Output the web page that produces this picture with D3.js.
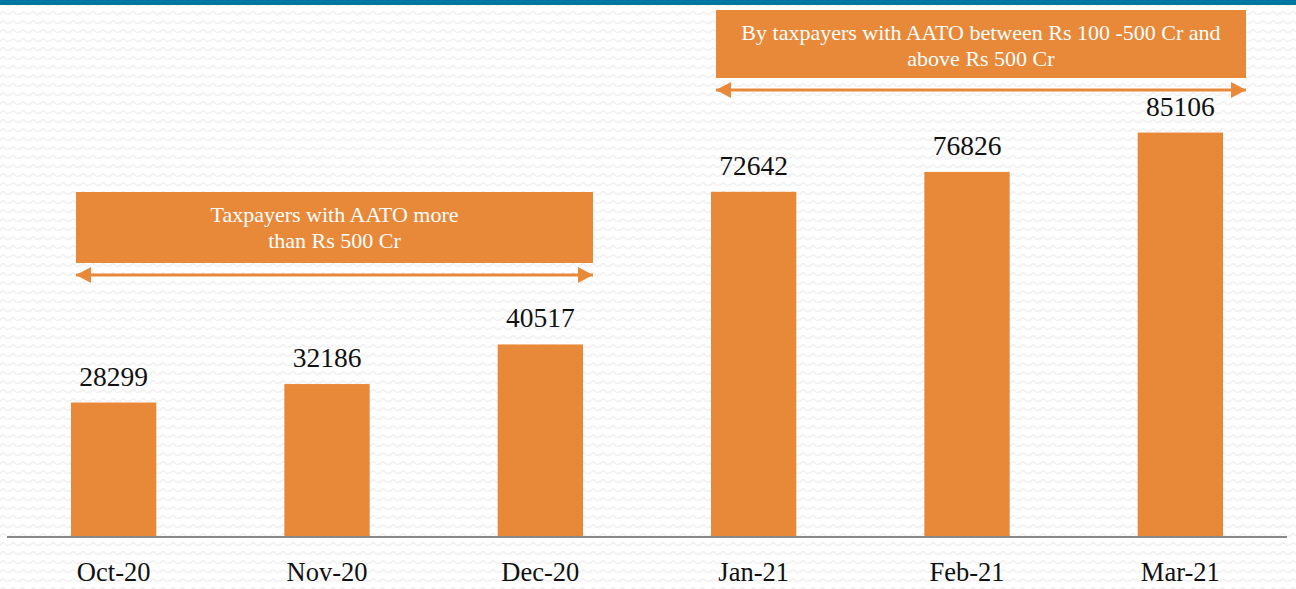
<!DOCTYPE html>
<html>
<head>
<meta charset="utf-8">
<script src="https://cdn.jsdelivr.net/npm/d3@7"></script>
<style>
  body { margin: 0; background: #fff; }
  svg { display: block; }
</style>
</head>
<body>
<div id="chart"></div>
<script>
// data
const months = ["Oct-20", "Nov-20", "Dec-20", "Jan-21", "Feb-21", "Mar-21"];
const returns = [28299, 32186, 40517, 72642, 76826, 85106];

// banner groups over the bars
const bannerText = [
    ["Taxpayers with AATO more", "than Rs 500 Cr"],
    ["By taxpayers with AATO between Rs 100 -500 Cr and", "above Rs 500 Cr"]
];
const bannerFrom = ["Oct-20", "Jan-21"];
const bannerTo = ["Dec-20", "Mar-21"];

const width = 1296;
const height = 589;
const baseY = 537;
const orange = "#E8893A";
const serif = "Liberation Serif";

const svg = d3.select("#chart")
    .append("svg")
    .attr("width", width)
    .attr("height", height);

// faint zigzag background
const defs = svg.append("defs");
const pat = defs.append("pattern")
    .attr("id", "zig")
    .attr("width", 10)
    .attr("height", 9)
    .attr("patternUnits", "userSpaceOnUse");
pat.append("path")
    .attr("d", "M0,6 Q2.5,1 5,4 T10,4")
    .attr("fill", "none")
    .attr("stroke", "#f1f1f1")
    .attr("stroke-width", 1.6);

svg.append("rect")
    .attr("width", width)
    .attr("height", height)
    .attr("fill", "url(#zig)");

svg.append("rect")
    .attr("width", width)
    .attr("height", 5)
    .attr("fill", "#0077A3");

// arrowheads
["start", "end"].forEach(function (k) {
    defs.append("marker")
        .attr("id", "arr-" + k)
        .attr("viewBox", "0 0 15 16")
        .attr("refX", k == "end" ? 15 : 0)
        .attr("refY", 8)
        .attr("markerWidth", 15)
        .attr("markerHeight", 16)
        .attr("markerUnits", "userSpaceOnUse")
        .attr("orient", "auto")
        .append("path")
        .attr("d", k == "end" ? "M0,0 L15,8 L0,16 Z" : "M15,0 L0,8 L15,16 Z")
        .attr("fill", orange);
});

const x = d3.scaleBand()
    .domain(months)
    .range([7, 1287])
    .paddingInner(0.6)
    .paddingOuter(0.3);

const y = d3.scaleLinear()
    .domain([0, 113000])
    .range([baseY, 0]);

svg.append("g")
    .selectAll("rect")
    .data(months)
    .join("rect")
    .attr("x", d => x(d))
    .attr("y", (d, i) => y(returns[i]))
    .attr("width", x.bandwidth())
    .attr("height", (d, i) => y(0) - y(returns[i]))
    .attr("fill", orange);

svg.append("g")
    .selectAll("text")
    .data(months)
    .join("text")
    .attr("x", d => x(d) + x.bandwidth() / 2)
    .attr("y", (d, i) => y(returns[i]) - 17)
    .attr("text-anchor", "middle")
    .attr("font-family", serif)
    .attr("font-size", 27.5)
    .attr("fill", "#111")
    .text((d, i) => returns[i]);

// x axis
const xAxis = svg.append("g")
    .attr("transform", `translate(0,${baseY})`)
    .call(d3.axisBottom(x).tickSize(0).tickPadding(25));
xAxis.select(".domain")
    .attr("d", "M7,0H1287")
    .attr("stroke", "#888")
    .attr("stroke-width", 2);
xAxis.selectAll("text")
    .attr("font-family", serif)
    .attr("font-size", 26.5)
    .attr("fill", "#111");

// banners with double arrows
const bannerTop = [192, 10];
const bannerH = [71, 68];
bannerText.forEach(function (lines, i) {
    const x0 = x(bannerFrom[i]) + 5;
    const x1 = x(bannerTo[i]) + x.bandwidth() + (i == 0 ? 10 : 23);
    const g = svg.append("g");
    g.append("rect")
        .attr("x", x0)
        .attr("y", bannerTop[i])
        .attr("width", x1 - x0)
        .attr("height", bannerH[i])
        .attr("fill", orange);
    g.selectAll("text")
        .data(lines)
        .join("text")
        .attr("x", (x0 + x1) / 2)
        .attr("y", (d, j) => bannerTop[i] + 30 + j * 26)
        .attr("text-anchor", "middle")
        .attr("font-family", serif)
        .attr("font-size", 22)
        .attr("fill", "#fff")
        .text(d => d);
    const ay = bannerTop[i] + bannerH[i] + 12;
    g.append("line")
        .attr("x1", x0)
        .attr("x2", x1)
        .attr("y1", ay)
        .attr("y2", ay)
        .attr("stroke", orange)
        .attr("stroke-width", 3)
        .attr("marker-start", "url(#arr-start)")
        .attr("marker-end", "url(#arr-end)");
});
</script>
</body>
</html>
